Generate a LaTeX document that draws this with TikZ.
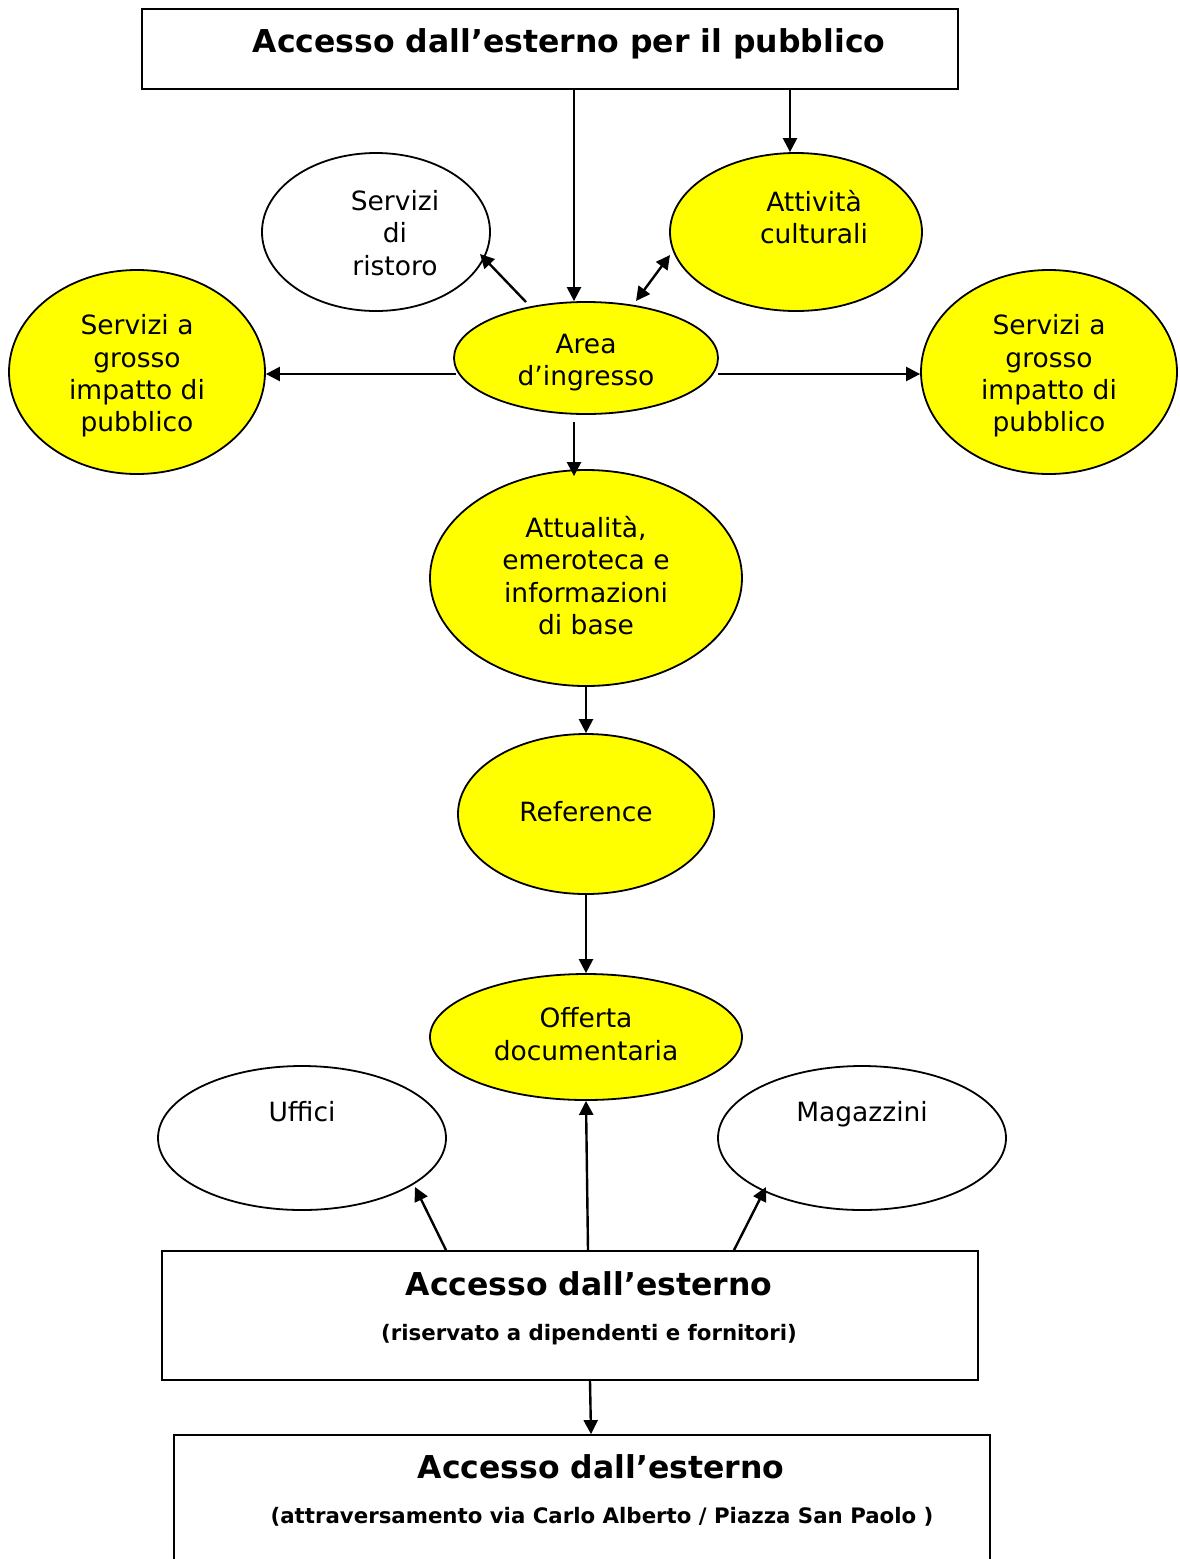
\documentclass[tikz,border=0pt]{standalone}
\usepackage{fontspec}
\setmainfont{DejaVu Sans}
\usetikzlibrary{shapes,arrows.meta,positioning}
\definecolor{giallo}{RGB}{255,255,0}
\newcommand{\fontovale}{\fontsize{26.5}{32.4}\selectfont}
\newcommand{\fonttitolo}{\fontsize{31.5}{36}\selectfont\bfseries}
\newcommand{\fontnota}{\fontsize{21.3}{25}\selectfont\bfseries}
\tikzset{
  zona/.style={draw, ellipse, line width=1.8pt, inner sep=0pt},
  zonagialla/.style={zona, fill=giallo},
  scritta/.style={align=center, inner sep=0pt, font=\fontovale},
  ingresso/.style={draw, rectangle, line width=1.8pt, inner sep=0pt},
  freccia/.style={-{Triangle[length=14pt,width=14pt]}, line width=2.4pt},
  doppia/.style={{Triangle[length=14pt,width=14pt]}-{Triangle[length=14pt,width=14pt]}, line width=2.4pt},
}
\begin{document}
\begin{tikzpicture}[x=1pt, y=-1pt]
        \useasboundingbox (0,0) rectangle (1179,1559);
        % Accessi dall'esterno
        \node[ingresso, minimum width=816pt, minimum height=80pt] (pubblico) at (550,49) {};
        \node[anchor=base, font=\fonttitolo, inner sep=0pt] (pubblico-t) at (569,52) {Accesso dall’esterno per il pubblico};
        \node[ingresso, minimum width=816pt, minimum height=129pt] (riserv) at (570,1315.5) {};
        \node[anchor=base, font=\fonttitolo, inner sep=0pt] (riserv-t) at (589,1295) {Accesso dall’esterno};
        \node[anchor=base, font=\fontnota, inner sep=0pt] (riserv-n) at (589,1340) {(riservato a dipendenti e fornitori)};
        \node[ingresso, minimum width=816pt, minimum height=190pt] (attrav) at (582,1530) {};
        \node[anchor=base, font=\fonttitolo, inner sep=0pt] (attrav-t) at (601,1478) {Accesso dall’esterno};
        \node[anchor=base, font=\fontnota, inner sep=0pt] (attrav-n) at (602,1523) {(attraversamento via Carlo Alberto / Piazza San Paolo )};

        % Aree
        \node[zona, minimum width=228pt, minimum height=158pt] (ristoro) at (376,232) {};
        \node[zonagialla, minimum width=252pt, minimum height=158pt] (att) at (796,232) {};
        \node[zonagialla, minimum width=264pt, minimum height=112pt] (area) at (586,358) {};
        \node[zonagialla, minimum width=256pt, minimum height=204pt] (sxg) at (137,372) {};
        \node[zonagialla, minimum width=256pt, minimum height=204pt] (dxg) at (1049,372) {};
        \node[zonagialla, minimum width=312pt, minimum height=216pt] (attu) at (586,578) {};
        \node[zonagialla, minimum width=256pt, minimum height=160pt] (ref) at (586,814) {};
        \node[zonagialla, minimum width=312pt, minimum height=126pt] (off) at (586,1037) {};
        \node[zona, minimum width=288pt, minimum height=144pt] (uffici) at (302,1138) {};
        \node[zona, minimum width=288pt, minimum height=144pt] (magaz) at (862,1138) {};

        % Scritte
        \node[scritta] (ristoro-t) at (395,233) {Servizi\\di\\ristoro};
        \node[scritta] (att-t) at (814,217) {Attività\\culturali};
        \node[scritta] (area-t) at (586,362.5) {Area\\d’ingresso};
        \node[scritta] (sxg-t) at (137,376) {Servizi a\\grosso\\impatto di\\pubblico};
        \node[scritta] (dxg-t) at (1049,376) {Servizi a\\grosso\\impatto di\\pubblico};
        \node[scritta] (attu-t) at (586,575.5) {Attualità,\\emeroteca e\\informazioni\\di base};
        \node[scritta] (ref-t) at (586,812) {Reference};
        \node[scritta] (off-t) at (586,1034) {Offerta\\documentaria};
        \node[scritta] (uffici-t) at (302,1112) {Uffici};
        \node[scritta] (magaz-t) at (862,1114) {Magazzini};

        % Punti di partenza
        \coordinate (a-ovest) at ([shift={(-130,16)}]area.center);
        \coordinate (a-est) at ([shift={(132,16)}]area.center);
        \coordinate (a-sud) at ([shift={(-12,64)}]area.center);

        % Collegamenti
        \draw[freccia] ([xshift=-12pt]area.north |- pubblico.south) -- ([xshift=-12pt]area.north);
        \draw[freccia] ([xshift=-6pt]att.north |- pubblico.south) -- ([xshift=-6pt]att.north);
        \draw[freccia] ([shift={(-60,-56)}]area.center) -- ([shift={(104,22)}]ristoro.center);
        \draw[doppia] ([shift={(50,-57)}]area.center) -- ([shift={(-126,23)}]att.center);
        \draw[freccia] (a-ovest) -- (a-ovest -| sxg.east);
        \draw[freccia] (a-est) -- (a-est -| dxg.west);
        \draw[freccia] (a-sud) -- ([yshift=-7pt]a-sud |- attu.north);
        \draw[freccia] (attu.south) -- (ref.north);
        \draw[freccia] (ref.south) -- (off.north);
        \draw[freccia] ([xshift=-124pt]riserv.north) -- ([shift={(113,49)}]uffici.center);
        \draw[freccia] ([xshift=18pt]riserv.north) -- (off.south);
        \draw[freccia] ([xshift=164pt]riserv.north) -- ([shift={(-96,49)}]magaz.center);
        \draw[freccia] ([xshift=20pt]riserv.south) -- ([xshift=9pt]attrav.north);
\end{tikzpicture}
\end{document}
